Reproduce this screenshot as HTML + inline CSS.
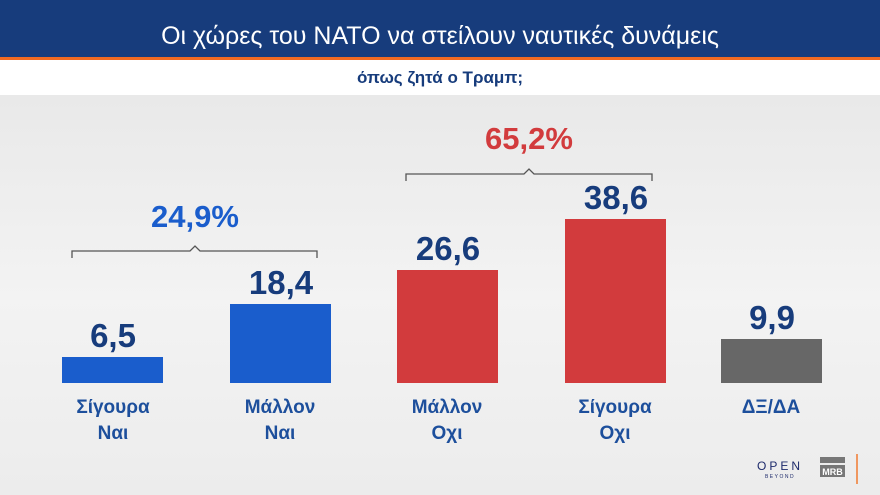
<!DOCTYPE html>
<html><head><meta charset="utf-8"><style>
body{margin:0;width:880px;height:495px;overflow:hidden;font-family:"Liberation Sans","DejaVu Sans",sans-serif;position:relative;background:linear-gradient(180deg,#e4e4e4 0%,#f3f3f3 60%,#ececec 100%)}
.hdr{position:absolute;left:0;top:0;width:880px;height:57px;background:#173c7c}
.hdr div{position:absolute;left:0;right:0;top:22px;text-align:center;color:#fff;font-size:25px}
.or{position:absolute;top:57px;left:0;width:880px;height:3px;background:#f26a21}
.sub{position:absolute;top:60px;left:0;width:880px;height:35px;background:#fff;text-align:center;font-weight:bold;color:#173c7c;font-size:17px;line-height:36px}
.bar{position:absolute;width:101px;bottom:112px}
.num{position:absolute;width:140px;text-align:center;font-weight:bold;color:#173c7c;font-size:33px}
.lab{position:absolute;width:160px;text-align:center;font-weight:bold;color:#1d4f9c;font-size:19px;line-height:26px;top:395px}
.pct{position:absolute;width:160px;text-align:center;font-weight:bold;font-size:31px}
</style></head><body>
<div class="hdr"><div>Οι χώρες του ΝΑΤΟ να στείλουν ναυτικές δυνάμεις</div></div>
<div class="or"></div>
<div class="sub">όπως ζητά ο Τραμπ;</div>

<div class="bar" style="left:62px;top:357px;background:#1a5dcc;height:26px"></div>
<div class="bar" style="left:230px;top:304px;background:#1a5dcc;height:79px"></div>
<div class="bar" style="left:397px;top:270px;background:#d23b3d;height:113px"></div>
<div class="bar" style="left:565px;top:219px;background:#d23b3d;height:164px"></div>
<div class="bar" style="left:721px;top:339px;background:#676767;height:44px"></div>

<div class="num" style="left:43px;top:317px">6,5</div>
<div class="num" style="left:211px;top:264px">18,4</div>
<div class="num" style="left:378px;top:230px">26,6</div>
<div class="num" style="left:546px;top:179px">38,6</div>
<div class="num" style="left:702px;top:299px">9,9</div>

<div class="lab" style="left:33px">Σίγουρα<br>Ναι</div>
<div class="lab" style="left:200px">Μάλλον<br>Ναι</div>
<div class="lab" style="left:367px">Μάλλον<br>Οχι</div>
<div class="lab" style="left:535px">Σίγουρα<br>Οχι</div>
<div class="lab" style="left:691px">ΔΞ/ΔΑ</div>

<svg style="position:absolute;left:0;top:0" width="880" height="495">
<path d="M72 258 V251 H190 L195 246 L200 251 H317 V258" fill="none" stroke="#555" stroke-width="1.3"/>
<path d="M406 181 V174 H524 L529 169 L534 174 H652 V181" fill="none" stroke="#555" stroke-width="1.3"/>
<line x1="857" y1="454" x2="857" y2="484" stroke="#f07a30" stroke-width="1.5"/>
<rect x="820" y="457" width="25" height="6" fill="#777"/>
<rect x="820" y="465" width="25" height="12" fill="#777"/>
<text x="832.5" y="475" font-size="9" font-weight="bold" fill="#fff" text-anchor="middle" font-family="Liberation Sans">MRB</text>
<text x="780" y="470" font-size="12" fill="#1d2a6b" text-anchor="middle" letter-spacing="3" font-family="Liberation Sans">OPEN</text>
<text x="780" y="478" font-size="5" fill="#1d2a6b" text-anchor="middle" letter-spacing="1.5" font-family="Liberation Sans">BEYOND</text>
</svg>
<div class="pct" style="left:115px;top:199px;color:#1a5dcc">24,9%</div>
<div class="pct" style="left:449px;top:121px;color:#d23b3d">65,2%</div>
</body></html>
